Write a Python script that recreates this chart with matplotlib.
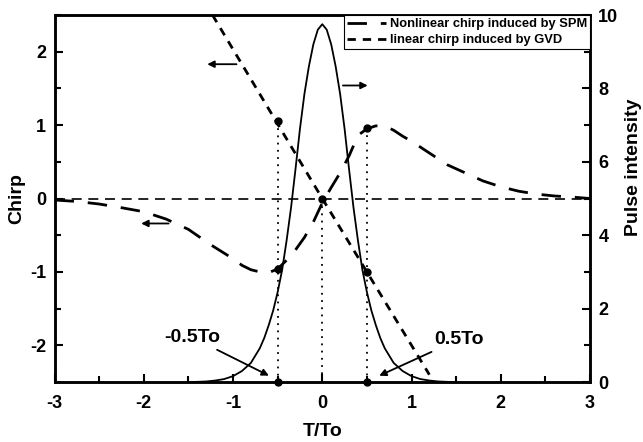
import matplotlib.pyplot as plt
from matplotlib.ticker import MultipleLocator

plt.rcParams['font.family'] = ['Liberation Sans', 'DejaVu Sans']
plt.rcParams['font.weight'] = 'bold'
plt.rcParams['axes.unicode_minus'] = False

# pulse intensity (right axis), one half mirrored
half_t = [0, 0.05, 0.1, 0.15, 0.2, 0.25, 0.3, 0.35, 0.4, 0.45, 0.5, 0.55, 0.6,
          0.65, 0.7, 0.8, 0.9, 1.0, 1.1, 1.2, 1.3, 1.4, 1.5]
half_i = [9.75, 9.6, 9.2, 8.6, 7.85, 6.9, 5.8, 4.75, 3.85, 3.05, 2.45, 1.95, 1.55,
          1.2, 0.92, 0.52, 0.3, 0.16, 0.08, 0.04, 0.015, 0.005, 0]
pulse_t = [-t for t in half_t[::-1]] + half_t[1:]
pulse_i = half_i[::-1] + half_i[1:]

# nonlinear chirp (SPM)
spm_t = [-3, -2.75, -2.5, -2.25, -2.0, -1.75, -1.5, -1.25, -1.0, -0.9, -0.8, -0.7,
         -0.6, -0.5, -0.4, -0.3, -0.2, -0.1, 0, 0.1, 0.2, 0.3, 0.4, 0.5, 0.6, 0.7,
         0.8, 0.9, 1.0, 1.2, 1.4, 1.6, 1.8, 2.0, 2.2, 2.4, 2.6, 2.8, 3.0]
spm_c = [-0.02, -0.04, -0.075, -0.125, -0.18, -0.28, -0.42, -0.63, -0.82, -0.91, -0.97, -1.0,
         -1.01, -0.96, -0.84, -0.70, -0.53, -0.32, -0.06, 0.15, 0.35, 0.58, 0.86, 0.95, 0.99, 0.99,
         0.93, 0.85, 0.78, 0.62, 0.46, 0.35, 0.24, 0.16, 0.10, 0.06, 0.035, 0.02, 0.0]

# linear chirp (GVD)
gvd_t = [-1.23, 0, 1.2]
gvd_c = [2.5, 0, -2.4]

# marked points
dot_t = [-0.5, -0.5, -0.5, 0, 0.5, 0.5, 0.5]
dot_c = [1.05, -0.96, -2.5, 0, 0.96, -1.0, -2.5]

fig = plt.figure(figsize=(6.43, 4.42), dpi=100)
ax = fig.add_axes([0.0848, 0.1357, 0.8328, 0.8303])
ax2 = ax.twinx()

ax.axhline(0, color='black', lw=1.2, dashes=(6, 4))
ax.plot([-0.5, -0.5], [1.05, -2.5], color='black', lw=1.3, ls=(0, (1, 3)))
ax.plot([0, 0], [0, -2.5], color='black', lw=1.3, ls=(0, (1, 3)))
ax.plot([0.5, 0.5], [0.96, -2.5], color='black', lw=1.3, ls=(0, (1, 3)))

l1, = ax.plot(spm_t, spm_c, color='black', lw=2, dashes=(7, 5),
              label='Nonlinear chirp induced by SPM')
l2, = ax.plot(gvd_t, gvd_c, color='black', lw=2, dashes=(3, 2.5),
              label='linear chirp induced by GVD')
ax.plot(dot_t, dot_c, 'o', color='black', ms=5, clip_on=False, zorder=5)

ax2.plot(pulse_t, pulse_i, color='black', lw=1.3)

# direction arrows
arr = dict(arrowstyle='-|>', color='black', lw=1.3, mutation_scale=10)
ax.annotate('', xy=(-1.32, 1.83), xytext=(-0.93, 1.83), arrowprops=arr)
ax.annotate('', xy=(-2.06, -0.34), xytext=(-1.69, -0.34), arrowprops=arr)
ax.annotate('', xy=(0.54, 1.54), xytext=(0.2, 1.54), arrowprops=arr)

# labels of the half-width points
ax.annotate('-0.5To', xy=(-0.57, -2.43), xytext=(-1.46, -1.89), ha='center', va='center',
            fontsize=14, fontweight='bold', arrowprops=arr)
ax.annotate('0.5To', xy=(0.61, -2.43), xytext=(1.53, -1.92), ha='center', va='center',
            fontsize=14, fontweight='bold', arrowprops=arr)

ax.set_xlim(-3, 3)
ax.set_ylim(-2.5, 2.5)
ax2.set_ylim(0, 10)
ax.xaxis.set_major_locator(MultipleLocator(1))
ax.xaxis.set_minor_locator(MultipleLocator(0.5))
ax.yaxis.set_major_locator(MultipleLocator(1))
ax.yaxis.set_minor_locator(MultipleLocator(0.5))
ax2.yaxis.set_major_locator(MultipleLocator(2))
ax2.yaxis.set_minor_locator(MultipleLocator(1))
for a in (ax, ax2):
    a.tick_params(which='both', direction='in', labelsize=13, width=1.5, pad=6)
    a.tick_params(which='major', length=6)
    a.tick_params(which='minor', length=4)
    for s in a.spines.values():
        s.set_linewidth(1.8)
ax.tick_params(axis='both', which='both', top=False, right=False)
ax.tick_params(axis='x', pad=9)

ax.set_xlabel('T/To', fontsize=14, fontweight='bold', labelpad=8)
ax.set_ylabel('Chirp', fontsize=14, fontweight='bold')
ax2.set_ylabel('Pulse intensity', fontsize=14, fontweight='bold')
ax.yaxis.set_label_coords(-0.055, 0.5)
ax2.yaxis.set_label_coords(1.065, 0.586)

leg = ax2.legend([l1, l2], [l1.get_label(), l2.get_label()], loc='upper right',
                 borderaxespad=0, fancybox=False, edgecolor='black', framealpha=1,
                 prop={'size': 9.3, 'weight': 'bold'}, handlelength=3.0,
                 handletextpad=0.3, labelspacing=0.3, borderpad=0.25)
leg.get_frame().set_linewidth(0.8)

fig.savefig('out.png', dpi=100)
